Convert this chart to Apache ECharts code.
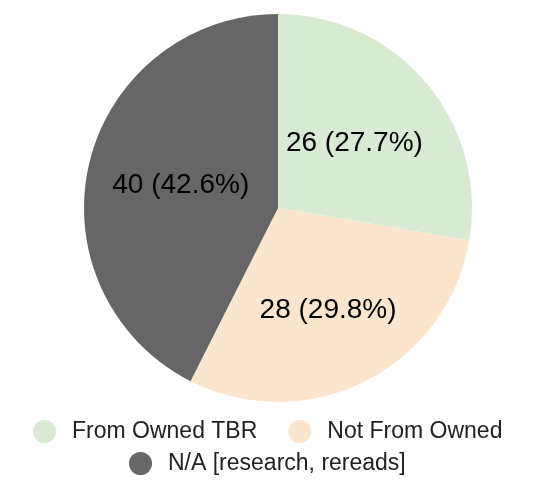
<!DOCTYPE html>
<html>
<head>
<meta charset="utf-8">
<script src="https://cdn.jsdelivr.net/npm/echarts@6/dist/echarts.min.js"></script>
<style>
  html, body { margin: 0; padding: 0; background: #fff; }
  #chart { width: 544px; height: 504px; }
</style>
</head>
<body>
<div id="chart"></div>
<script>
const categories = ['From Owned TBR', 'Not From Owned', 'N/A [research, rereads]']
const counts = [26, 28, 40]
const colors = ['#d9ead3', '#fce5cd', '#666666']

const total = counts.reduce((a, b) => a + b, 0)
const font = '"Liberation Sans", Arial, Helvetica, sans-serif'

const chart = echarts.init(document.getElementById('chart'))

const pieData = categories.map((name, i) => {
  const item = { name: name, value: counts[i], itemStyle: { color: colors[i] } }
  // sheets nudges this label a bit outwards
  if (i === 1) item.label = { offset: [5, 13] }
  return item
})

const legendCommon = {
  orient: 'horizontal',
  icon: 'circle',
  itemWidth: 23,
  itemHeight: 23,
  itemGap: 31,
  padding: 0,
  selectedMode: false,
  textStyle: {
    fontFamily: font,
    fontSize: 23,
    color: '#222222',
    padding: [0, 0, 0, 11]
  }
}

chart.setOption({
  animation: false,
  legend: [
    Object.assign({}, legendCommon, { data: categories.slice(0, 2), left: 33, top: 420 }),
    Object.assign({}, legendCommon, { data: categories.slice(2), left: 129, top: 452 })
  ],
  series: [
    {
      type: 'pie',
      center: [278, 208],
      radius: 194,
      startAngle: 90,
      clockwise: true,
      emphasis: { disabled: true },
      label: {
        position: 'inside',
        fontFamily: font,
        fontSize: 28,
        color: '#000000',
        formatter: p => p.value + ' (' + (p.value / total * 100).toFixed(1) + '%)'
      },
      labelLine: { show: false },
      data: pieData
    }
  ]
})
</script>
</body>
</html>
